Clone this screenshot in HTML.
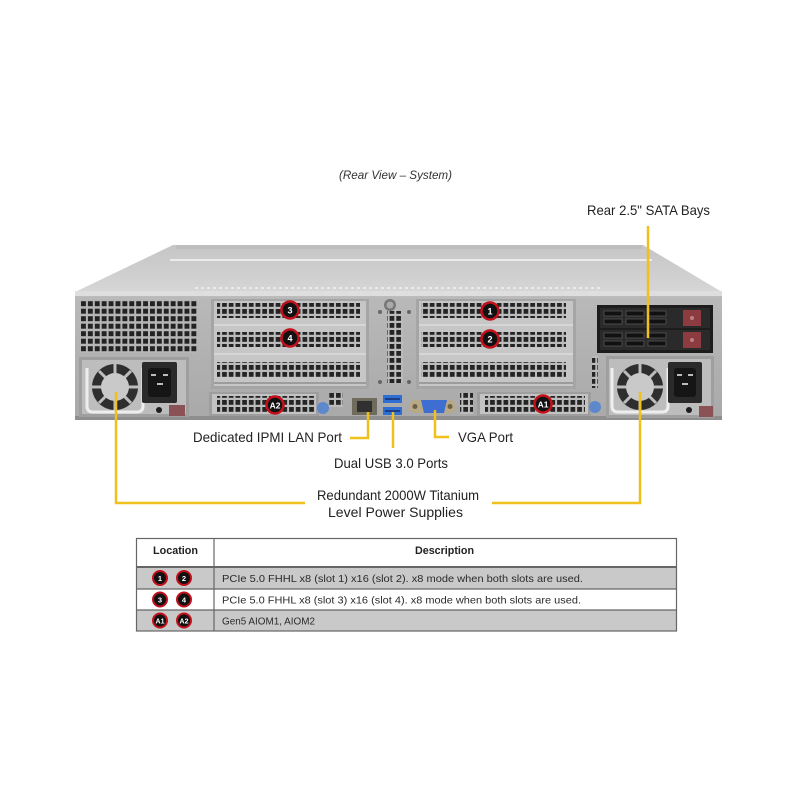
<!DOCTYPE html>
<html><head><meta charset="utf-8">
<style>
html,body{margin:0;padding:0;background:#fff;}
svg{display:block;}
text{font-family:"Liberation Sans",Arial,sans-serif;}
</style></head>
<body>
<svg width="800" height="800" viewBox="0 0 800 800" xmlns="http://www.w3.org/2000/svg">
<defs>
  <pattern id="vent" x="80" y="300" width="6.9" height="7.5" patternUnits="userSpaceOnUse">
    <rect width="6.9" height="7.5" fill="#b6b6b6"/>
    <rect x="1" y="1.2" width="4.9" height="5" fill="#232323"/>
  </pattern>
  <pattern id="vent2" x="0" y="0" width="6.7" height="7" patternUnits="userSpaceOnUse">
    <rect width="6.7" height="7" fill="#bcbcbc"/>
    <rect x="1" y="1" width="4.7" height="4.8" fill="#242424"/>
  </pattern>
  <linearGradient id="lid" x1="0" y1="0" x2="0" y2="1">
    <stop offset="0" stop-color="#c6c6c6"/>
    <stop offset="0.5" stop-color="#cdcdcd"/>
    <stop offset="1" stop-color="#d6d6d6"/>
  </linearGradient>
  <linearGradient id="face" x1="0" y1="0" x2="0" y2="1">
    <stop offset="0" stop-color="#b9b9b9"/>
    <stop offset="1" stop-color="#a9a9a9"/>
  </linearGradient>
</defs>

<!-- Title -->
<text x="339" y="179" font-size="12" font-style="italic" fill="#333" textLength="113" lengthAdjust="spacingAndGlyphs">(Rear View – System)</text>

<!-- SATA label -->
<text x="587" y="215" font-size="14" fill="#222" textLength="123" lengthAdjust="spacingAndGlyphs">Rear 2.5" SATA Bays</text>

<!-- Lid -->
<polygon points="173,245 643,245 722,292 75,292" fill="url(#lid)"/>
<rect x="176" y="245" width="466" height="4" fill="#bdbdbd"/>
<line x1="170" y1="260" x2="652" y2="260" stroke="#ececec" stroke-width="2"/>
<line x1="195" y1="288" x2="600" y2="288" stroke="#f2f2f2" stroke-width="1.5" stroke-dasharray="3 3"/>
<rect x="75" y="291" width="647" height="6" fill="#dedede"/>
<line x1="75" y1="297" x2="722" y2="297" stroke="#9a9a9a" stroke-width="1"/>

<!-- Front face -->
<rect x="75" y="297" width="647" height="123" fill="url(#face)"/>
<rect x="75" y="416" width="647" height="4" fill="#8e8e8e"/>

<!-- Left vent -->
<rect x="80" y="300" width="117" height="53" fill="url(#vent)"/>

<!-- Left PSU -->
<rect x="79" y="357" width="110" height="60" fill="#9f9f9f"/>
<rect x="82" y="360" width="104" height="54" fill="#bdbdbd"/>
<circle cx="115" cy="387" r="23" fill="#2e2e2e"/>
<g stroke="#bdbdbd" stroke-width="3">
  <line x1="115" y1="364" x2="115" y2="410"/>
  <line x1="92" y1="387" x2="138" y2="387"/>
  <line x1="99" y1="371" x2="131" y2="403"/>
  <line x1="131" y1="371" x2="99" y2="403"/>
</g>
<circle cx="115" cy="387" r="14" fill="#c9c9c9"/>
<path d="M87,368 L87,406 Q87,412 93,412 L137,412 Q143,412 143,406 L143,368" fill="none" stroke="#eeeeee" stroke-width="3"/>
<rect x="142" y="362" width="35" height="41" rx="2" fill="#2a2a2a"/>
<rect x="148" y="368" width="23" height="29" rx="3" fill="#151515"/>
<rect x="151" y="374" width="5" height="2" fill="#bbb"/>
<rect x="157" y="383" width="6" height="2" fill="#bbb"/>
<rect x="163" y="374" width="5" height="2" fill="#bbb"/>
<circle cx="159" cy="410" r="3" fill="#1e1e1e"/>
<rect x="169" y="405" width="16" height="11" fill="#8a5254"/>

<!-- Left PCIe cage -->
<rect x="211" y="299" width="158" height="90" fill="#a5a5a5"/>
<rect x="214" y="301" width="152" height="85" fill="#c6c6c6"/>
<rect x="217" y="303" width="143" height="15" fill="url(#vent2)"/>
<rect x="217" y="332" width="143" height="15" fill="url(#vent2)"/>
<rect x="217" y="362" width="143" height="15" fill="url(#vent2)"/>
<line x1="214" y1="325" x2="366" y2="325" stroke="#d6d6d6" stroke-width="2"/>
<line x1="214" y1="354" x2="366" y2="354" stroke="#d6d6d6" stroke-width="2"/>
<line x1="214" y1="383" x2="366" y2="383" stroke="#9c9c9c" stroke-width="2"/>

<!-- Right PCIe cage -->
<rect x="416" y="299" width="160" height="90" fill="#a5a5a5"/>
<rect x="419" y="301" width="154" height="85" fill="#c6c6c6"/>
<rect x="421" y="303" width="145" height="15" fill="url(#vent2)"/>
<rect x="421" y="332" width="145" height="15" fill="url(#vent2)"/>
<rect x="421" y="362" width="145" height="15" fill="url(#vent2)"/>
<line x1="419" y1="325" x2="573" y2="325" stroke="#d6d6d6" stroke-width="2"/>
<line x1="419" y1="354" x2="573" y2="354" stroke="#d6d6d6" stroke-width="2"/>
<line x1="419" y1="383" x2="573" y2="383" stroke="#9c9c9c" stroke-width="2"/>

<!-- Center column -->
<circle cx="390" cy="305" r="6" fill="#777"/>
<circle cx="390" cy="305" r="3.5" fill="#aaa"/>
<rect x="387" y="311" width="16" height="72" fill="url(#vent2)"/>
<circle cx="380" cy="312" r="2" fill="#666"/>
<circle cx="409" cy="312" r="2" fill="#666"/>
<circle cx="380" cy="382" r="2" fill="#666"/>
<circle cx="409" cy="382" r="2" fill="#666"/>

<!-- AIOM slots -->
<rect x="209" y="392" width="110" height="24" fill="#9e9e9e"/>
<rect x="212" y="394" width="104" height="20" fill="#c3c3c3"/>
<rect x="217" y="396" width="98" height="16" fill="url(#vent2)"/>
<rect x="477" y="392" width="114" height="24" fill="#9e9e9e"/>
<rect x="480" y="394" width="108" height="20" fill="#c3c3c3"/>
<rect x="485" y="396" width="100" height="16" fill="url(#vent2)"/>
<circle cx="323" cy="408" r="6" fill="#5d88cc"/>
<circle cx="595" cy="407" r="6" fill="#5d88cc"/>
<rect x="329" y="393" width="14" height="14" fill="url(#vent2)"/>
<rect x="460" y="393" width="13" height="21" fill="url(#vent2)"/>
<rect x="592" y="356" width="6" height="32" fill="url(#vent2)"/>

<!-- LAN -->
<rect x="352" y="398" width="25" height="17" fill="#6f6c5e"/>
<rect x="357" y="401" width="15" height="11" fill="#303030"/>
<!-- USB -->
<rect x="383" y="395" width="19" height="8" fill="#2f6fd3"/>
<rect x="385" y="398" width="15" height="2" fill="#1a3f86"/>
<rect x="383" y="407" width="19" height="8" fill="#2f6fd3"/>
<rect x="385" y="410" width="15" height="2" fill="#1a3f86"/>
<!-- VGA -->
<rect x="410" y="400" width="45" height="13" rx="5" fill="#b7a985"/>
<polygon points="421,400 447,400 444,413 424,413" fill="#3f6ed2"/>
<circle cx="415" cy="406.5" r="2.5" fill="#6b5f45"/>
<circle cx="450" cy="406.5" r="2.5" fill="#6b5f45"/>

<!-- SATA bays -->
<rect x="597" y="305" width="116" height="48" fill="#1c1c1c"/>
<rect x="600" y="308" width="110" height="20" fill="#2a2a2a"/>
<rect x="600" y="330" width="110" height="20" fill="#2a2a2a"/>
<g fill="#111" stroke="#555" stroke-width="0.8">
  <rect x="604" y="311" width="18" height="5"/><rect x="626" y="311" width="18" height="5"/><rect x="648" y="311" width="18" height="5"/>
  <rect x="604" y="319" width="18" height="5"/><rect x="626" y="319" width="18" height="5"/><rect x="648" y="319" width="18" height="5"/>
  <rect x="604" y="333" width="18" height="5"/><rect x="626" y="333" width="18" height="5"/><rect x="648" y="333" width="18" height="5"/>
  <rect x="604" y="341" width="18" height="5"/><rect x="626" y="341" width="18" height="5"/><rect x="648" y="341" width="18" height="5"/>
</g>
<rect x="683" y="310" width="18" height="16" fill="#8c3c40"/>
<rect x="683" y="332" width="18" height="16" fill="#8c3c40"/>
<circle cx="692" cy="318" r="2" fill="#c08080"/>
<circle cx="692" cy="340" r="2" fill="#c08080"/>

<!-- Right PSU -->
<rect x="606" y="356" width="108" height="62" fill="#9f9f9f"/>
<rect x="609" y="359" width="102" height="56" fill="#bdbdbd"/>
<circle cx="640" cy="387" r="23" fill="#2e2e2e"/>
<g stroke="#bdbdbd" stroke-width="3">
  <line x1="640" y1="364" x2="640" y2="410"/>
  <line x1="617" y1="387" x2="663" y2="387"/>
  <line x1="624" y1="371" x2="656" y2="403"/>
  <line x1="656" y1="371" x2="624" y2="403"/>
</g>
<circle cx="640" cy="387" r="14" fill="#c9c9c9"/>
<path d="M612,368 L612,406 Q612,412 618,412 L662,412 Q668,412 668,406 L668,368" fill="none" stroke="#eeeeee" stroke-width="3"/>
<rect x="668" y="362" width="34" height="41" rx="2" fill="#2a2a2a"/>
<rect x="674" y="368" width="22" height="29" rx="3" fill="#151515"/>
<rect x="677" y="374" width="5" height="2" fill="#bbb"/>
<rect x="682" y="383" width="6" height="2" fill="#bbb"/>
<rect x="688" y="374" width="5" height="2" fill="#bbb"/>
<circle cx="689" cy="410" r="3" fill="#1e1e1e"/>
<rect x="699" y="406" width="14" height="11" fill="#8a5254"/>

<!-- Markers on chassis -->
<g font-weight="bold" font-size="9" fill="#fff" text-anchor="middle">
  <circle cx="290" cy="310" r="8.5" fill="#111" stroke="#c3101b" stroke-width="2.5"/><text x="290" y="313.5">3</text>
  <circle cx="290" cy="338" r="8.5" fill="#111" stroke="#c3101b" stroke-width="2.5"/><text x="290" y="341.5">4</text>
  <circle cx="490" cy="311" r="8.5" fill="#111" stroke="#c3101b" stroke-width="2.5"/><text x="490" y="314.5">1</text>
  <circle cx="490" cy="339" r="8.5" fill="#111" stroke="#c3101b" stroke-width="2.5"/><text x="490" y="342.5">2</text>
  <circle cx="275" cy="405" r="8.5" fill="#111" stroke="#c3101b" stroke-width="2.5"/><text x="275" y="408.5" font-size="8.5">A2</text>
  <circle cx="543" cy="404" r="8.5" fill="#111" stroke="#c3101b" stroke-width="2.5"/><text x="543" y="407.5" font-size="8.5">A1</text>
</g>

<!-- Connectors -->
<g stroke="#f0c01c" stroke-width="2.5" fill="none">
  <line x1="648" y1="226" x2="648" y2="338"/>
  <polyline points="116,392 116,503 305,503"/>
  <polyline points="640,392 640,503 492,503"/>
  <polyline points="368,412 368,438 350,438"/>
  <line x1="393" y1="412" x2="393" y2="448"/>
  <polyline points="435,410 435,437 449,437"/>
</g>

<!-- Labels -->
<g font-size="14" fill="#222">
  <text x="193" y="442" textLength="149" lengthAdjust="spacingAndGlyphs">Dedicated IPMI  LAN Port</text>
  <text x="334" y="468" textLength="114" lengthAdjust="spacingAndGlyphs">Dual USB 3.0 Ports</text>
  <text x="458" y="442" textLength="55" lengthAdjust="spacingAndGlyphs">VGA Port</text>
  <text x="317" y="500" textLength="162" lengthAdjust="spacingAndGlyphs">Redundant  2000W Titanium</text>
  <text x="328" y="517" textLength="135" lengthAdjust="spacingAndGlyphs">Level Power Supplies</text>
</g>

<!-- Table -->
<rect x="136" y="538" width="540" height="29" fill="#fff"/>
<rect x="136" y="567" width="540" height="22" fill="#c9c9c9"/>
<rect x="136" y="589" width="540" height="21" fill="#fff"/>
<rect x="136" y="610" width="540" height="21" fill="#c9c9c9"/>
<g stroke="#666" stroke-width="1.2" fill="none">
  <rect x="136.5" y="538.5" width="540" height="92.5"/>
  <line x1="214" y1="538" x2="214" y2="631"/>
  <line x1="136" y1="567" x2="676" y2="567" stroke-width="2"/>
  <line x1="136" y1="589" x2="676" y2="589"/>
  <line x1="136" y1="610" x2="676" y2="610"/>
</g>
<g font-size="11" font-weight="bold" fill="#222">
  <text x="153" y="554" textLength="45" lengthAdjust="spacingAndGlyphs">Location</text>
  <text x="415" y="554" textLength="59" lengthAdjust="spacingAndGlyphs">Description</text>
</g>
<g font-size="10.5" fill="#2a2a2a">
  <text x="222" y="582" textLength="361" lengthAdjust="spacingAndGlyphs">PCIe 5.0 FHHL  x8 (slot 1) x16 (slot 2). x8 mode when both slots are used.</text>
  <text x="222" y="603.5" textLength="359" lengthAdjust="spacingAndGlyphs">PCIe 5.0 FHHL  x8 (slot 3) x16 (slot 4). x8 mode when both slots are used.</text>
  <text x="222" y="624.5" textLength="93" lengthAdjust="spacingAndGlyphs">Gen5 AIOM1, AIOM2</text>
</g>
<g font-weight="bold" font-size="7.5" fill="#fff" text-anchor="middle">
  <circle cx="160" cy="578" r="7" fill="#111" stroke="#c3101b" stroke-width="2"/><text x="160" y="580.8">1</text>
  <circle cx="184" cy="578" r="7" fill="#111" stroke="#c3101b" stroke-width="2"/><text x="184" y="580.8">2</text>
  <circle cx="160" cy="599.5" r="7" fill="#111" stroke="#c3101b" stroke-width="2"/><text x="160" y="602.3">3</text>
  <circle cx="184" cy="599.5" r="7" fill="#111" stroke="#c3101b" stroke-width="2"/><text x="184" y="602.3">4</text>
  <circle cx="160" cy="620.5" r="7" fill="#111" stroke="#c3101b" stroke-width="2"/><text x="160" y="623.3" font-size="7">A1</text>
  <circle cx="184" cy="620.5" r="7" fill="#111" stroke="#c3101b" stroke-width="2"/><text x="184" y="623.3" font-size="7">A2</text>
</g>
</svg>
</body></html>
